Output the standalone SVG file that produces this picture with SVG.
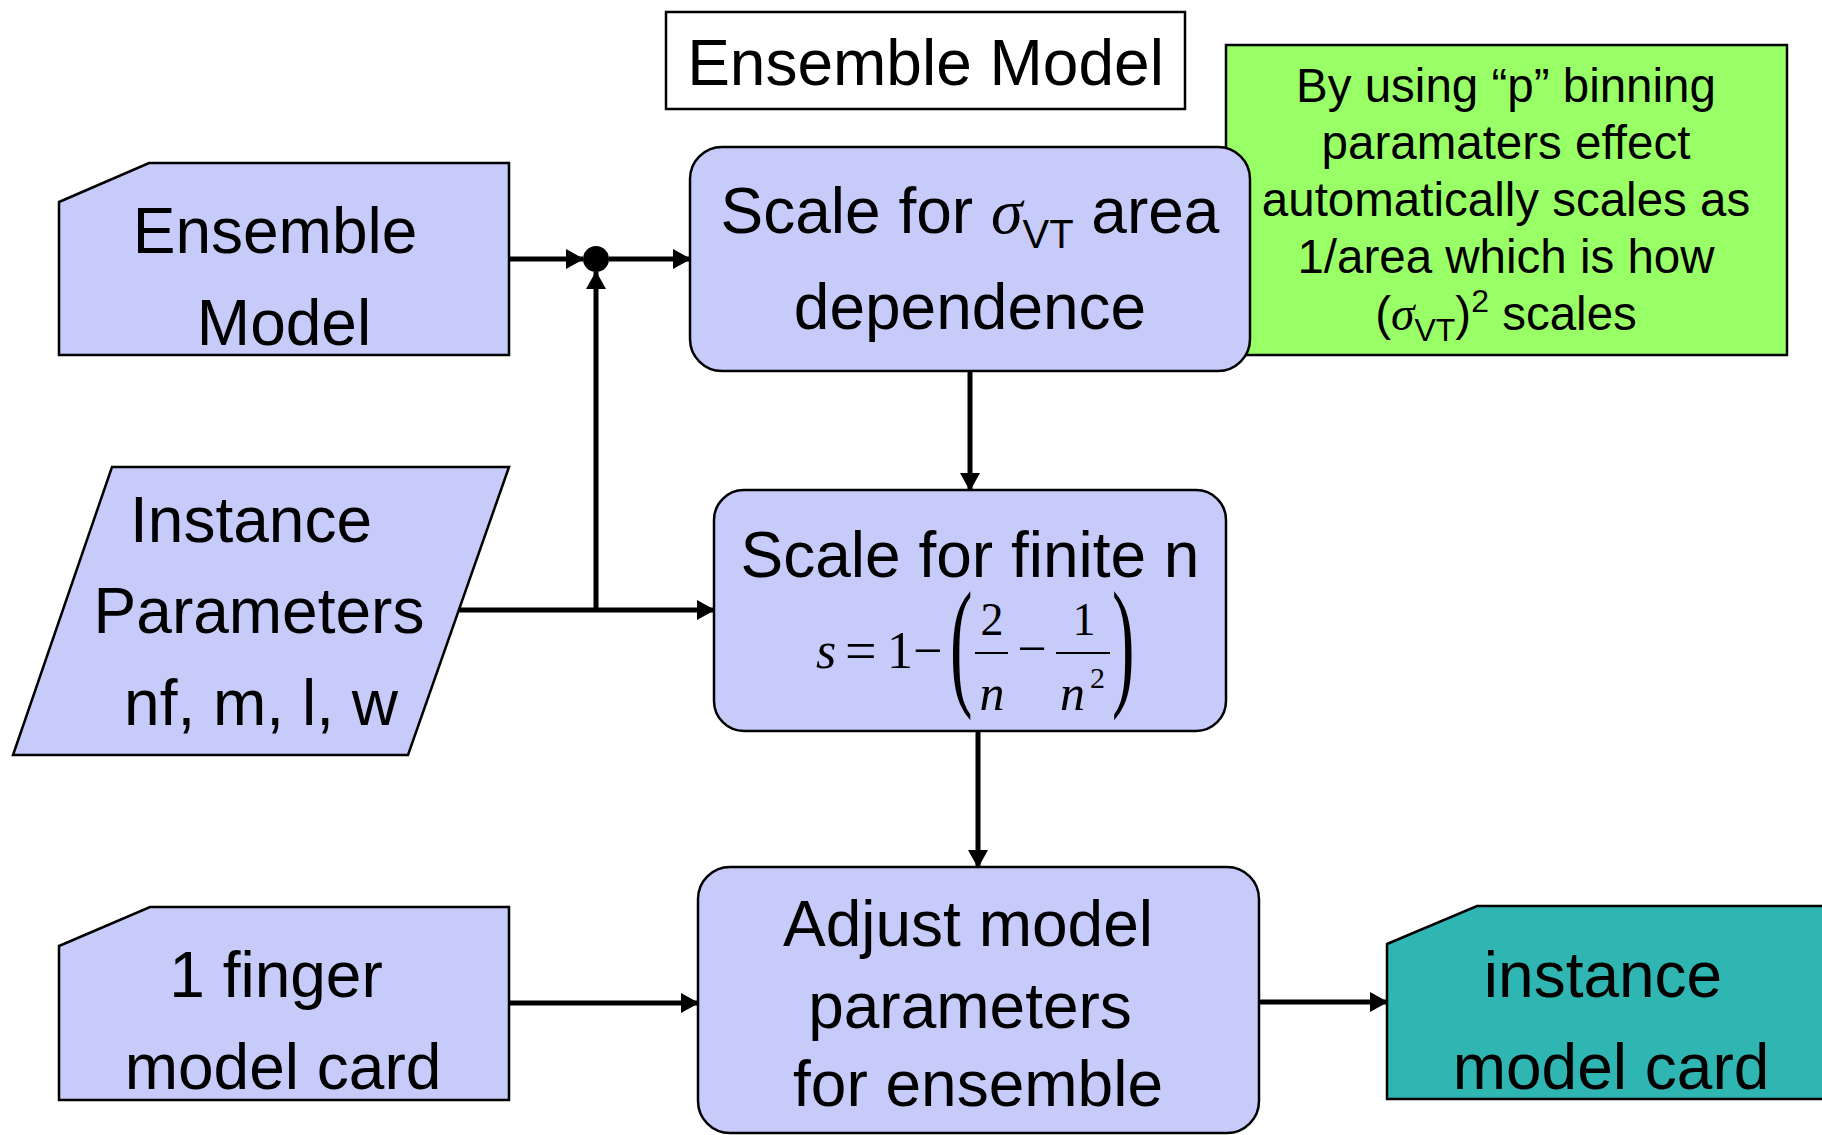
<svg xmlns="http://www.w3.org/2000/svg" width="1822" height="1135" viewBox="0 0 1822 1135">
<defs>
<style>
.shape{stroke:#000;stroke-width:2.5;}
.lav{fill:#c7cbfa;}
.t{font-family:"Liberation Sans",Arial,sans-serif;font-size:64px;fill:#000;text-anchor:middle;}
.g{font-family:"Liberation Sans",Arial,sans-serif;font-size:47.5px;fill:#000;text-anchor:middle;}
.sym{font-family:"Liberation Serif","Times New Roman",serif;font-style:italic;}
.m{font-family:"Liberation Serif","Times New Roman",serif;fill:#000;}
.conn{stroke:#000;stroke-width:5;fill:none;}
</style>
<marker id="arr" markerUnits="userSpaceOnUse" markerWidth="18" markerHeight="20" refX="17" refY="10" orient="auto">
<path d="M0,0 L18,10 L0,20 z" fill="#000"/>
</marker>
</defs>
<rect width="1822" height="1135" fill="#fff"/>

<g id="title">
<rect class="shape" x="666" y="12" width="519" height="97" fill="#fff"/>
<text class="t" x="925.5" y="85">Ensemble Model</text>
</g>

<g id="note">
<rect class="shape" x="1226" y="45" width="561" height="310" fill="#99ff66"/>
<text class="g" x="1506" y="102">By using “p” binning</text>
<text class="g" x="1506" y="159">paramaters effect</text>
<text class="g" x="1506" y="216">automatically scales as</text>
<text class="g" x="1506" y="273">1/area which is how</text>
<text class="g" x="1506" y="330">(<tspan class="sym">σ</tspan><tspan font-size="32" dy="11">VT</tspan><tspan dy="-11">)</tspan><tspan font-size="32" dy="-18">2</tspan><tspan dy="18"> scales</tspan></text>
</g>

<g id="ensemble-model">
<polygon class="shape lav" points="59,202 149,163 509,163 509,355 59,355"/>
<text class="t" x="275" y="253">Ensemble</text>
<text class="t" x="284" y="345">Model</text>
</g>

<g id="scale-area">
<rect class="shape lav" x="690" y="147" width="560" height="224" rx="32" ry="32"/>
<text class="t" x="970" y="233">Scale for <tspan class="sym">σ</tspan><tspan font-size="40" dy="15">VT</tspan><tspan dy="-15"> area</tspan></text>
<text class="t" x="970" y="329">dependence</text>
</g>

<g id="instance-params">
<polygon class="shape lav" points="112,467 509,467 408,755 13,755"/>
<text class="t" x="251" y="542">Instance</text>
<text class="t" x="259" y="633">Parameters</text>
<text class="t" x="261" y="725">nf, m, l, w</text>
</g>

<g id="scale-finite">
<rect class="shape lav" x="714" y="490" width="512" height="241" rx="30" ry="30"/>
<text class="t" x="970" y="577">Scale for finite n</text>
<text class="m" font-size="52" font-style="italic" x="816" y="668">s</text>
<text class="m" font-size="56" x="845" y="670">=</text>
<text class="m" font-size="52" x="887" y="668">1</text>
<text class="m" font-size="52" x="913" y="668">−</text>
<text class="m" font-size="150" transform="matrix(0.45,0,0,0.95,950,690)">(</text>
<text class="m" font-size="46" x="992" y="635" text-anchor="middle">2</text>
<line x1="975" y1="653" x2="1008" y2="653" stroke="#000" stroke-width="2.2"/>
<text class="m" font-size="50" font-style="italic" x="992" y="710" text-anchor="middle">n</text>
<text class="m" font-size="52" x="1032" y="666" text-anchor="middle">−</text>
<text class="m" font-size="46" x="1084" y="635" text-anchor="middle">1</text>
<line x1="1056" y1="653" x2="1110" y2="653" stroke="#000" stroke-width="2.2"/>
<text class="m" font-size="50" font-style="italic" x="1060" y="710">n</text>
<text class="m" font-size="30" x="1090" y="688">2</text>
<text class="m" font-size="150" transform="matrix(0.45,0,0,0.95,1112,690)">)</text>
</g>

<g id="one-finger">
<polygon class="shape lav" points="59,946 150,907 509,907 509,1100 59,1100"/>
<text class="t" x="276" y="997">1 finger</text>
<text class="t" x="283" y="1089">model card</text>
</g>

<g id="adjust">
<rect class="shape lav" x="698" y="867" width="561" height="266" rx="32" ry="32"/>
<text class="t" x="968" y="946">Adjust model</text>
<text class="t" x="970" y="1028">parameters</text>
<text class="t" x="978" y="1106">for ensemble</text>
</g>

<g id="instance-card">
<polygon class="shape" fill="#2fb5b2" points="1387,944 1477,906 1830,906 1830,1099 1387,1099"/>
<text class="t" x="1603" y="997">instance</text>
<text class="t" x="1611" y="1089">model card</text>
</g>

<g id="connectors">
<circle id="junction" cx="596" cy="259" r="13" fill="#000"/>
<line class="conn" x1="509" y1="259" x2="583" y2="259" marker-end="url(#arr)"/>
<line class="conn" x1="609" y1="259" x2="690" y2="259" marker-end="url(#arr)"/>
<line class="conn" x1="459" y1="610" x2="714" y2="610" marker-end="url(#arr)"/>
<line class="conn" x1="596" y1="610" x2="596" y2="272" marker-end="url(#arr)"/>
<line class="conn" x1="970" y1="371" x2="970" y2="490" marker-end="url(#arr)"/>
<line class="conn" x1="978" y1="731" x2="978" y2="867" marker-end="url(#arr)"/>
<line class="conn" x1="509" y1="1003" x2="698" y2="1003" marker-end="url(#arr)"/>
<line class="conn" x1="1259" y1="1002" x2="1387" y2="1002" marker-end="url(#arr)"/>
</g>
</svg>
